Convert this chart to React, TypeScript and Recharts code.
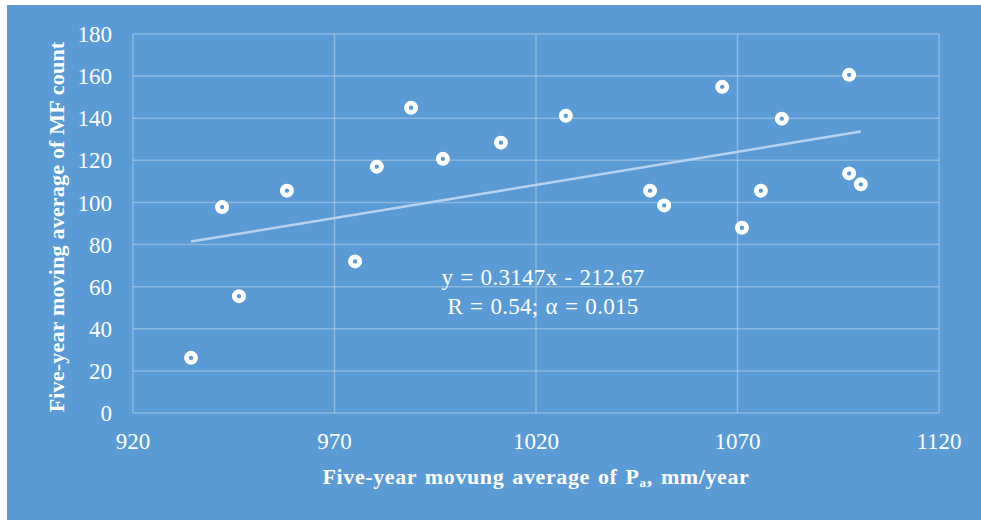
import React from 'react';
import { ScatterChart, Scatter, XAxis, YAxis, CartesianGrid, Label } from 'recharts';

// Five-year moving averages
const precip = [934.4, 942.1, 946.3, 958.2, 975.1, 980.5, 989.0, 996.9, 1011.3, 1027.4, 1048.3, 1051.8, 1066.2, 1071.1, 1075.8, 1081.0, 1097.7, 1097.7, 1100.6];
const mfCount = [26.2, 97.8, 55.5, 105.6, 72.0, 117.0, 145.0, 120.7, 128.4, 141.2, 105.6, 98.6, 154.9, 88.0, 105.6, 139.8, 160.6, 113.8, 108.6];

// trend line end points (y = 0.3147x - 212.67)
const trendX = [934.4, 1100.6];
const trendY = [81.4, 133.7];

const xTicks = [920, 970, 1020, 1070, 1120];
const yTicks = [0, 20, 40, 60, 80, 100, 120, 140, 160, 180];

const BG = '#5B9BD5';
const FONT = '"Liberation Serif", "Times New Roman", serif';

const points = precip.map((p, i) => ({ x: p, y: mfCount[i] }));
const trend = trendX.map((p, i) => ({ x: p, y: trendY[i] }));

const RingMarker = (props: any) => {
    const { cx, cy } = props;
    if (cx == null || cy == null) return <g />;
    return <circle cx={cx} cy={cy} r={4.6} fill={BG} stroke="#ffffff" strokeWidth={4.8} />;
};

const NoMarker = () => <g />;

const tickStyle = { fontSize: 23, fill: '#ffffff', fontFamily: FONT };

export default function App() {
    return (
        <div style={{ position: 'absolute', left: 0, top: 0, width: 981, height: 520, background: '#ffffff' }}>
            <div style={{ position: 'absolute', left: 7, top: 5, width: 974, height: 515, background: BG }} />
            <div style={{ position: 'absolute', left: 0, top: 0 }}>
                <ScatterChart width={981} height={520} margin={{ top: 34, right: 42, bottom: 67, left: 73 }}>
                    <CartesianGrid stroke="#ffffff" strokeOpacity={0.28} strokeWidth={1.5} horizontalValues={yTicks} verticalValues={xTicks} />
                    <XAxis
                        type="number"
                        dataKey="x"
                        domain={[920, 1120]}
                        ticks={xTicks}
                        axisLine={false}
                        tickLine={false}
                        tickMargin={14}
                        height={40}
                        tick={tickStyle}
                        allowDataOverflow
                    >
                        <Label
                            content={() => (
                                <text x={536} y={484} textAnchor="middle" fill="#ffffff" fontFamily={FONT} fontSize={22} fontWeight="bold" letterSpacing={0.6} wordSpacing={2}>
                                    Five-year movung average of P<tspan dy={3} fontSize={13}>a</tspan><tspan dy={-3}>, mm/year</tspan>
                                </text>
                            )}
                        />
                    </XAxis>
                    <YAxis
                        type="number"
                        dataKey="y"
                        domain={[0, 180]}
                        ticks={yTicks}
                        axisLine={false}
                        tickLine={false}
                        tickMargin={15}
                        width={60}
                        tick={tickStyle}
                        allowDataOverflow
                    >
                        <Label
                            content={() => (
                                <text x={64} y={227} transform="rotate(-90 64 227)" textAnchor="middle" fill="#ffffff" fontFamily={FONT} fontSize={22} fontWeight="bold" letterSpacing={0.2}>
                                    Five-year moving average of MF count
                                </text>
                            )}
                        />
                    </YAxis>
                    <Scatter
                        data={trend}
                        line={{ stroke: '#b9d3ef', strokeWidth: 2.5 }}
                        lineType="joint"
                        shape={NoMarker}
                        isAnimationActive={false}
                    />
                    <Scatter data={points} shape={RingMarker} isAnimationActive={false} />
                </ScatterChart>
            </div>
            <div style={{ position: 'absolute', left: 343, top: 263, width: 400, textAlign: 'center', color: '#ffffff', fontFamily: FONT, fontSize: 23, lineHeight: '29px', letterSpacing: 0.3, wordSpacing: 1 }}>
                y = 0.3147x - 212.67
                <br />
                R = 0.54; α = 0.015
            </div>
        </div>
    );
}
